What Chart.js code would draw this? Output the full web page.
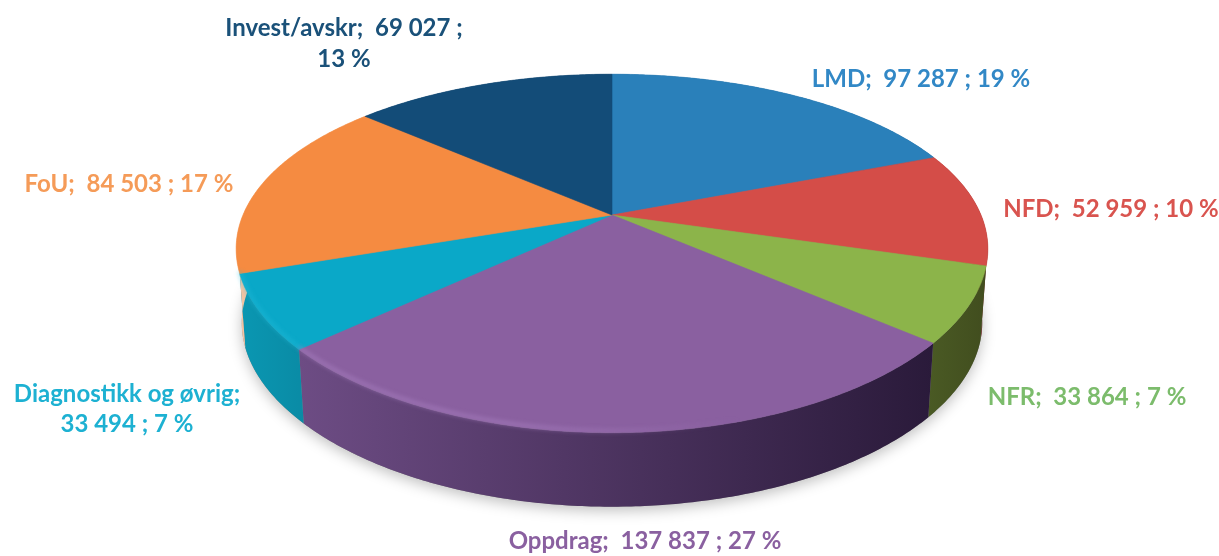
<!DOCTYPE html>
<html>
<head>
<meta charset="utf-8">
<script src="https://cdn.jsdelivr.net/npm/chart.js@4/dist/chart.umd.min.js"></script>
<style>
html,body{margin:0;padding:0;background:#fff;}
#wrap{width:1219px;height:556px;position:relative;}
canvas{filter:blur(0.7px);}
</style>
</head>
<body>
<div id="wrap"><canvas id="c" width="1219" height="556"></canvas></div>
<script>
const categories = ['LMD','NFD','NFR','Oppdrag','Diagnostikk og øvrig','FoU','Invest/avskr'];
const values = [97287,52959,33864,137837,33494,84503,69027];
const percents = [19,10,7,27,7,17,13];
const topColors = ['#2a80ba','#d44d48','#8cb44a','#8a60a0','#0aa8c8','#f58b41','#134c78'];
const sideFrom = ['#1c5a85','#8f2a27','#4a5a24','#6d4c84','#0a97b2','#f3c3a2','#0e3656'];
const sideTo = ['#1c5a85','#6f1d1b','#414d1e','#2a1a3a','#0a8ba5','#f3c3a2','#0e3656'];
const textColors = ['#3288c6','#d9544f','#7cbc6c','#8a60a0','#1db1d2','#f59b58','#1a5179'];

// Layout of the drawing (not data)
const view = {cx:612, cy:215, rx:369, a:171, kx:0.19, ky:0.2145, depth:74, shrink:0.985};
const labelLayout = [
  {x:921, y:[79]}, {x:1111, y:[209]}, {x:1087, y:[397]}, {x:645, y:[541]},
  {x:127, y:[394,424], brk:'name'}, {x:129, y:[184]}, {x:344, y:[28,59], brk:'value'}
];

function fmt(n){ return String(n).replace(/\B(?=(\d{3})+$)/g,' '); }
function labelLines(i){
  const c=categories[i], v=fmt(values[i]), p=percents[i]+' %', b=labelLayout[i].brk;
  if(b==='name') return [c+';', v+' ; '+p];
  if(b==='value') return [c+';  '+v+' ;', p];
  return [c+';  '+v+' ; '+p];
}
function proj(a, lower){
  const u=Math.cos(a), v=Math.sin(a);
  let x=view.rx*u/(1-view.kx*v), y=view.a*v/(1-view.ky*v);
  if(lower){ x*=view.shrink; y+=view.depth; }
  return [view.cx+x, view.cy+y];
}
function arcPts(s,e,lower){
  const n=Math.max(4,Math.ceil((e-s)/0.01)), pts=[];
  for(let i=0;i<=n;i++) pts.push(proj(s+(e-s)*i/n,lower));
  return pts;
}
const tiltedPie = {
  id:'tiltedPie',
  beforeDatasetsDraw(chart){
    const ctx=chart.ctx, arcs=chart.getDatasetMeta(0).data;
    ctx.save();
    // soft shadow under the body
    ctx.save();
    ctx.shadowColor='rgba(0,0,0,0.25)'; ctx.shadowBlur=14; ctx.shadowOffsetY=4;
    ctx.fillStyle='#888';
    ctx.beginPath();
    arcPts(0,Math.PI*2,true).forEach((p,i)=>i?ctx.lineTo(p[0],p[1]):ctx.moveTo(p[0],p[1]));
    ctx.closePath(); ctx.fill();
    ctx.restore();
    // side walls
    arcs.forEach((arc,i)=>{
      const s=arc.startAngle, e=arc.endAngle;
      const t=arcPts(s,e,false), b=arcPts(s,e,true).reverse();
      const xs=t.concat(b).map(p=>p[0]);
      const g=ctx.createLinearGradient(Math.min(...xs),0,Math.max(...xs),0);
      g.addColorStop(0,sideFrom[i]); g.addColorStop(1,sideTo[i]);
      ctx.fillStyle=g;
      ctx.beginPath();
      t.concat(b).forEach((p,j)=>j?ctx.lineTo(p[0],p[1]):ctx.moveTo(p[0],p[1]));
      ctx.closePath(); ctx.fill();
    });
    // top faces
    arcs.forEach((arc,i)=>{
      const pts=arcPts(arc.startAngle,arc.endAngle,false);
      ctx.fillStyle=topColors[i];
      ctx.strokeStyle=topColors[i]; ctx.lineWidth=0.6;
      ctx.beginPath(); ctx.moveTo(view.cx,view.cy);
      pts.forEach(p=>ctx.lineTo(p[0],p[1]));
      ctx.closePath(); ctx.fill(); ctx.stroke();
    });
    // rim highlight on the front-left slices
    [[3,'rgba(170,130,195,0.55)'],[4,'rgba(40,190,220,0.4)']].forEach(([i,col])=>{
      const arc=arcs[i], pts=arcPts(arc.startAngle,arc.endAngle,false);
      const g=ctx.createLinearGradient(300,0,740,0);
      g.addColorStop(0,col); g.addColorStop(0.5,col); g.addColorStop(1,'rgba(170,130,195,0)');
      ctx.save();
      ctx.filter='blur(2px)'; ctx.strokeStyle=g; ctx.lineWidth=4;
      ctx.beginPath();
      pts.forEach((p,j)=>j?ctx.lineTo(p[0],p[1]-2):ctx.moveTo(p[0],p[1]-2));
      ctx.stroke(); ctx.restore();
    });
    ctx.restore();
    return false;
  },
  afterDraw(chart){
    const ctx=chart.ctx;
    ctx.save();
    ctx.font='bold 24px Lato, Carlito, sans-serif';
    ctx.textAlign='center'; ctx.textBaseline='middle';
    categories.forEach((_,i)=>{
      ctx.fillStyle=textColors[i];
      labelLines(i).forEach((line,j)=>ctx.fillText(line,labelLayout[i].x,labelLayout[i].y[j]));
    });
    ctx.restore();
  }
};
new Chart(document.getElementById('c'),{
  type:'pie',
  data:{labels:categories,datasets:[{data:values,backgroundColor:topColors,borderWidth:0}]},
  options:{
    responsive:false,animation:false,
    layout:{padding:0},
    plugins:{legend:{display:false},tooltip:{enabled:false},title:{display:false}}
  },
  plugins:[tiltedPie]
});
</script>
</body>
</html>
